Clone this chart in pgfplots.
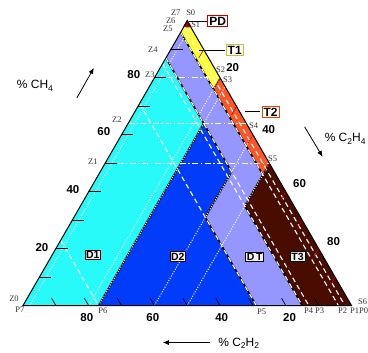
\documentclass[border=0pt]{standalone}
\usepackage{pgfplots}
\pgfplotsset{compat=1.18}
\usepackage{fontspec}
\setmainfont{Liberation Serif}
\newfontfamily\sans{Liberation Sans}
\usetikzlibrary{arrows.meta}

\definecolor{cD1}{RGB}{40,250,250}
\definecolor{cD2}{RGB}{0,60,250}
\definecolor{cDT}{RGB}{150,150,255}
\definecolor{cT3}{RGB}{72,12,0}
\definecolor{cT2}{RGB}{255,85,35}
\definecolor{cT1}{RGB}{255,255,50}
\definecolor{cPD}{RGB}{160,0,20}

% ternary (C2H4 = e, CH4 = m, C2H2 = 100-e-m) -> picture coordinates
\pgfplotsset{/pgfplots/table/tern/.style={row sep=\\,
  x expr={23+3.29*(\thisrow{e}+0.5*\thisrow{m})},
  y expr={45+2.85*\thisrow{m}}}}
\newcommand\T[2]{(axis cs:{23+3.29*((#1)+0.5*(#2))},{45+2.85*(#2)})}
\newcommand\sub[1]{\raisebox{-0.35ex}{\fontsize{8.5bp}{9bp}\selectfont #1}}

\tikzset{
  num/.style={font=\sans\bfseries\fontsize{11.5bp}{12bp}\selectfont, inner sep=0pt},
  lab/.style={font=\fontsize{8.5bp}{9bp}\selectfont, inner sep=0pt, text=black!80},
  zbox/.style={draw=black, fill=white!88!gray, line width=0.7pt, inner sep=1.2pt,
     font=\sans\bfseries\fontsize{10.5bp}{11bp}\selectfont},
  cbox/.style={fill=white, line width=1.2pt, inner sep=1.5pt,
     font=\sans\bfseries\fontsize{12bp}{12bp}\selectfont},
  wdot/.style={white, line width=1pt, dash pattern=on 1pt off 1.6pt},
  wdash/.style={white, line width=1.1pt, dash pattern=on 5pt off 3.5pt},
  wdd/.style={white, line width=1pt, dash pattern=on 6pt off 2.5pt on 1.5pt off 2.5pt},
  bnd/.style={black, line width=1.6pt},
}

\begin{document}
\begin{tikzpicture}
\begin{axis}[hide axis, scale only axis, width=368bp, height=351bp,
  xmin=0, xmax=368, ymin=0, ymax=351, clip=false]
\path[draw=none] (axis cs:0,0) rectangle (axis cs:368,351);

% zones
\addplot[fill=cD1, draw=none] table[tern]{e m\\ 0 0\\ 0 87\\ 23 64\\ 23 0\\} -- cycle;
\addplot[fill=cD2, draw=none] table[tern]{e m\\ 23 0\\ 23 64\\ 40 47\\ 40 31\\ 71 0\\} -- cycle;
\addplot[fill=cDT, draw=none] table[tern]{e m\\ 0 87\\ 0 96\\ 50 46\\ 50 35\\ 85 0\\ 71 0\\ 40 31\\ 40 47\\ 23 64\\} -- cycle;
\addplot[fill=cT3, draw=none] table[tern]{e m\\ 50 35\\ 50 50\\ 100 0\\ 85 0\\} -- cycle;
\addplot[fill=cT2, draw=none] table[tern]{e m\\ 20 76\\ 20 80\\ 50 50\\ 50 46\\} -- cycle;
\addplot[fill=cT1, draw=none] table[tern]{e m\\ 0 96\\ 0 98\\ 2 98\\ 20 80\\ 20 76\\} -- cycle;
\addplot[fill=cPD, draw=cPD, line width=1.5pt] table[tern]{e m\\ 0 98\\ 0 100\\ 2 98\\} -- cycle;

% black zone boundaries
\addplot[bnd] table[tern]{e m\\ 23 0\\ 23 64\\};
\addplot[bnd] table[tern]{e m\\ 0 87\\ 23 64\\ 40 47\\ 40 31\\ 71 0\\};
\addplot[bnd] table[tern]{e m\\ 85 0\\ 50 35\\ 50 50\\};
\addplot[bnd] table[tern]{e m\\ 0 96\\ 50 46\\};
\addplot[black, line width=1pt] table[tern]{e m\\ 20 76\\ 20 80\\};

% white dotted lines (constant C2H4)
\addplot[wdot] table[tern]{e m\\ 2 0\\ 2 98\\};
\addplot[wdot] table[tern]{e m\\ 20 0\\ 20 80\\};
\addplot[wdot] table[tern]{e m\\ 23 0\\ 23 77\\};
\addplot[wdot] table[tern]{e m\\ 40 0\\ 40 60\\};
\addplot[wdot] table[tern]{e m\\ 50 0\\ 50 50\\};
% white dashed lines (constant C2H2)
\addplot[wdash] table[tern]{e m\\ 0 23\\ 23 0\\};
\addplot[wdash] table[tern]{e m\\ 0 71\\ 71 0\\};
\addplot[wdash] table[tern]{e m\\ 0 85\\ 85 0\\};
\addplot[wdash] table[tern]{e m\\ 0 87\\ 87 0\\};
\addplot[wdash] table[tern]{e m\\ 0 96\\ 96 0\\};
\addplot[wdash] table[tern]{e m\\ 0 98\\ 98 0\\};
% white dash-dot lines (constant CH4)
\addplot[wdd] table[tern]{e m\\ 0 50\\ 50 50\\};
\addplot[wdd] table[tern]{e m\\ 0 64\\ 36 64\\};
\addplot[wdd] table[tern]{e m\\ 0 80\\ 20 80\\};

% outline
\addplot[black, line width=1pt] table[tern]{e m\\ 0 0\\ 100 0\\ 0 100\\} -- cycle;

% ticks
\pgfplotsinvokeforeach{10,20,...,90}{
  \draw[black, line width=0.8pt] \T{0}{#1} -- \T{3.6}{#1};
  \draw[black, line width=0.7pt] \T{#1}{0} -- \T{#1-2.6}{2.6};
  \draw[red!70!black, line width=0.6pt] \T{#1}{100-#1} -- \T{#1}{97-#1};
}

% scale numbers
\node[num] at (axis cs:42,103) {20};
\node[num] at (axis cs:73,161) {40};
\node[num] at (axis cs:104,219) {60};
\node[num] at (axis cs:134,276) {80};
\node[num] at (axis cs:233,283) {20};
\node[num] at (axis cs:269,221) {40};
\node[num] at (axis cs:300,167) {60};
\node[num] at (axis cs:334,109) {80};
\node[num] at (axis cs:87,33) {80};
\node[num] at (axis cs:153,33) {60};
\node[num] at (axis cs:222,33) {40};
\node[num] at (axis cs:290,33) {20};

% point labels
\node[lab] at (axis cs:14,52) {Z0};
\node[lab] at (axis cs:93,189) {Z1};
\node[lab] at (axis cs:117,231) {Z2};
\node[lab] at (axis cs:150,276) {Z3};
\node[lab] at (axis cs:153,301) {Z4};
\node[lab] at (axis cs:168,322) {Z5};
\node[lab] at (axis cs:171,330) {Z6};
\node[lab] at (axis cs:176,338) {Z7};
\node[lab] at (axis cs:191,338) {S0};
\node[lab] at (axis cs:196,326) {S1};
\node[lab] at (axis cs:221,281) {S2};
\node[lab] at (axis cs:228,271) {S3};
\node[lab] at (axis cs:254,225) {S4};
\node[lab] at (axis cs:273,192) {S5};
\node[lab] at (axis cs:363,49) {S6};
\node[lab] at (axis cs:20,41) {P7};
\node[lab] at (axis cs:103,40) {P6};
\node[lab] at (axis cs:262,39) {P5};
\node[lab] at (axis cs:309,40) {P4};
\node[lab] at (axis cs:320,40) {P3};
\node[lab] at (axis cs:343,40) {P2};
\node[lab] at (axis cs:355,40) {P1};
\node[lab] at (axis cs:364,40) {P0};

% zone boxes
\node[zbox] at (axis cs:93,96) {D1};
\node[zbox] at (axis cs:178,94) {D2};
\node[zbox] at (axis cs:255,94) {D\,T};
\node[zbox] at (axis cs:298,94) {T3};
\draw[black, line width=0.8pt] (axis cs:189,330) -- (axis cs:207,330);
\node[cbox, draw=red!75!black] at (axis cs:218,330) {PD};
\draw[black, line width=0.8pt] (axis cs:199,301) -- (axis cs:225,301);
\node[cbox, draw=yellow!75!black] at (axis cs:235,301) {T1};
\draw[black, line width=0.8pt] (axis cs:245,239) -- (axis cs:260,239);
\node[cbox, draw=orange!70!red!85!black] at (axis cs:271,239) {T2};

% axis titles
\node[font=\sans\fontsize{12bp}{13bp}\selectfont] at (axis cs:35,265) {\% CH\sub{4}};
\draw[-{Latex[length=6pt,width=5pt]}, line width=0.8pt] (axis cs:77,253) -- (axis cs:94,283);
\node[font=\sans\fontsize{12bp}{13bp}\selectfont, anchor=west, inner sep=0pt] at (axis cs:325,212) {\% C\sub{2}H\sub{4}};
\draw[-{Latex[length=6pt,width=5pt]}, line width=0.8pt] (axis cs:305,224) -- (axis cs:323,194);
\node[font=\sans\fontsize{12bp}{13bp}\selectfont] at (axis cs:239,7) {\% C\sub{2}H\sub{2}};
\draw[-{Latex[length=6pt,width=5pt]}, line width=0.8pt] (axis cs:210,8) -- (axis cs:163,8);
\end{axis}
\end{tikzpicture}
\end{document}
